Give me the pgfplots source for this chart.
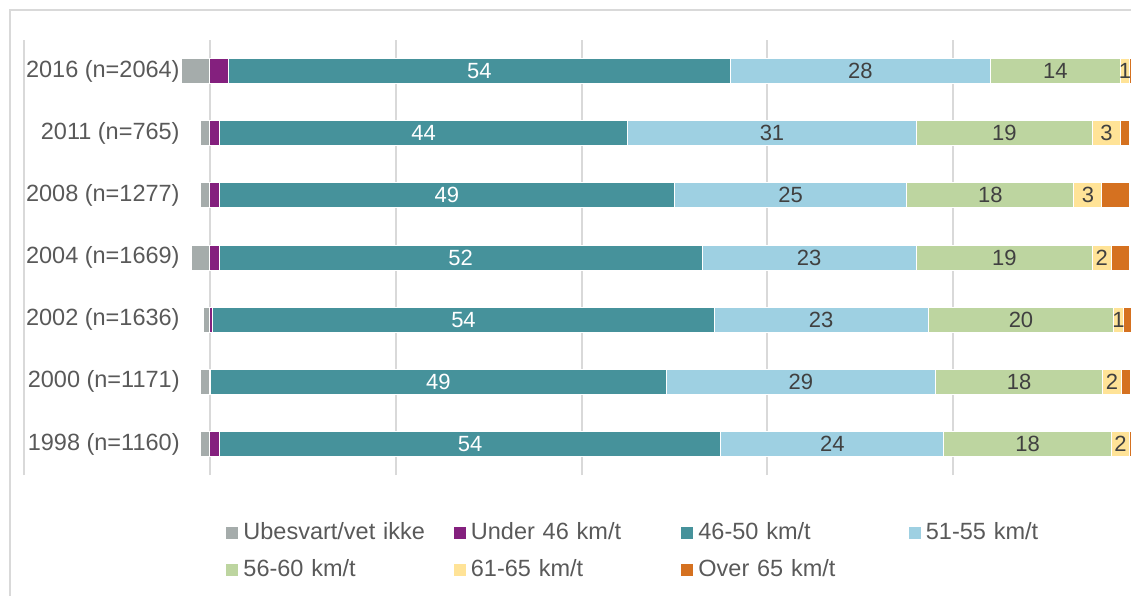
\documentclass[border=0pt]{standalone}
\usepackage{fontspec}
\setmainfont{Liberation Sans}
\usepackage{pgfplots}
\pgfplotsset{compat=1.18}
\usepackage{pgfplotstable}

\definecolor{cGray}{HTML}{A5ACAB}
\definecolor{cPurple}{HTML}{84207E}
\definecolor{cTeal}{HTML}{46929B}
\definecolor{cLBlue}{HTML}{9ED0E2}
\definecolor{cGreen}{HTML}{BDD5A0}
\definecolor{cYellow}{HTML}{FFE397}
\definecolor{cOrange}{HTML}{D57120}
\definecolor{gridgray}{HTML}{D9D9D9}
\definecolor{txt}{HTML}{595959}
\definecolor{lbl}{HTML}{404040}

% Speed shares (%) per survey year; "gray" (no answer) is drawn left of zero.
\pgfplotstableread{
pos gray under sA sB sC sD over
0  -1    1    54 24 18 2 1
1  -1    0.1  49 29 18 2 1
2  -0.7  0.3  54 23 20 1 2
3  -2    1    52 23 19 2 2
4  -1    1    49 25 18 3 3
5  -1    1    44 31 19 3 1
6  -3    2    54 28 14 1 1
}\speeds

\pgfplotsset{
  frame/.style={
    at={(12pt,-237.5pt)}, anchor=south west,
    scale only axis, width=557.5pt, height=217.5pt,
    xmin=-20, xmax=100, ymin=-0.5, ymax=6.5, bar width=12.5pt},
  seg/.style={fill=#1, draw=white, line width=0.5pt},
  % value label in the middle of its segment
  lab/.style={
    point meta=explicit symbolic,
    nodes near coords,
    every node near coord/.style={anchor=center, inner sep=0pt, text=#1,
      font=\fontsize{11}{13}\selectfont}},
}

\begin{document}
\begin{tikzpicture}
\useasboundingbox (0,0) rectangle (565.5pt,-297.5pt);
\draw[gridgray, line width=1pt] (5pt,-400pt) |- (600pt,-5pt);
\begin{axis}[
  frame, xbar stacked,
  xtick={-20,0,...,100}, xticklabels={},
  xmajorgrids, major grid style={gridgray, line width=1pt},
  ytick={0,...,6},
  yticklabels={1998 (n=1160),2000 (n=1171),2002 (n=1636),2004 (n=1669),2008 (n=1277),2011 (n=765),2016 (n=2064)},
  yticklabel style={anchor=east, inner sep=0pt, xshift=78pt,
    font=\fontsize{11.75}{14}\selectfont, text=txt},
  major tick length=0pt,
  axis line style={draw=none},
  legend columns=4,
  legend image code/.code={\fill[#1] (0pt,-3.25pt) rectangle (6.5pt,3.25pt);},
  legend style={at={(0.1803,-0.109)}, anchor=north west, draw=none, fill=none,
    inner sep=0pt, row sep=8.5pt,
    font=\fontsize{11.75}{14}\selectfont, text=txt,
    /tikz/every odd column/.append style={column sep=2pt},
    /tikz/every even column/.append style={column sep=0pt},
    nodes={inner sep=0pt, text width=104.75pt, align=left, anchor=west}},
]
\addlegendimage{seg=cGray}
\addlegendentry{Ubesvart/vet ikke}
\addplot[seg=cPurple] table[x=under, y=pos] {\speeds};
\addlegendentry{Under 46 km/t}
\addplot[seg=cTeal, lab=white] table[x=sA, y=pos, meta=sA] {\speeds};
\addlegendentry{46-50 km/t}
\addplot[seg=cLBlue, lab=lbl] table[x=sB, y=pos, meta=sB] {\speeds};
\addlegendentry{51-55 km/t}
\addplot[seg=cGreen, lab=lbl] table[x=sC, y=pos, meta=sC] {\speeds};
\addlegendentry{56-60 km/t}
\addplot[seg=cYellow, lab=lbl] table[x=sD, y=pos, meta=sD] {\speeds};
\addlegendentry{61-65 km/t}
\addplot[seg=cOrange] table[x=over, y=pos] {\speeds};
\addlegendentry{Over 65 km/t}
\end{axis}
% no-answer shares, left of the zero line
\begin{axis}[frame, xbar, hide axis]
\addplot[seg=cGray] table[x=gray, y=pos] {\speeds};
\end{axis}
\end{tikzpicture}
\end{document}
